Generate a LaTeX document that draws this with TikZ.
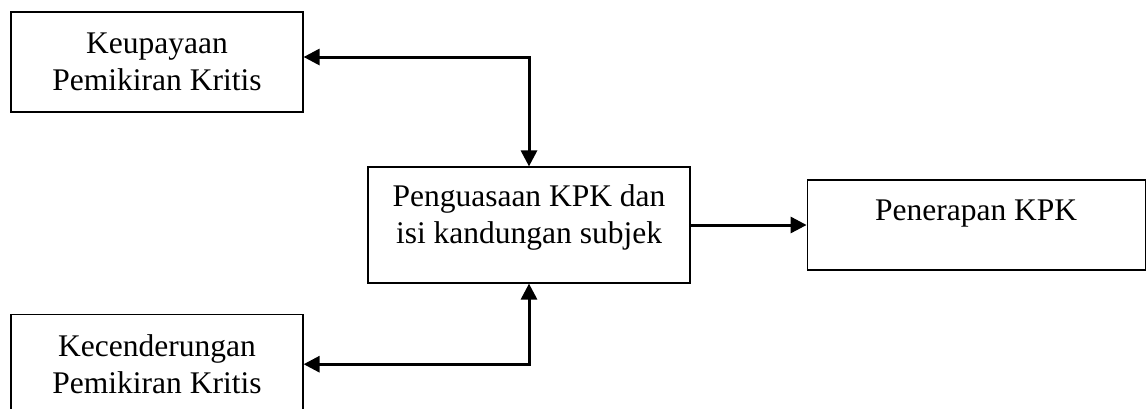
\documentclass[tikz,border=0pt]{standalone}
\usepackage{fontspec}
\setmainfont{Liberation Serif}
\usetikzlibrary{arrows.meta,positioning}

\begin{document}
\begin{tikzpicture}[>={Triangle[length=8pt,width=8pt]}, x=1pt, y=1pt]
			\tikzset{block/.style= {draw, rectangle, align=center, line width=0.6pt, inner sep=0pt, font=\fontsize{15.75}{18.5}\selectfont},
			teks/.style= {align=center, inner sep=0pt, font=\fontsize{15.75}{18.5}\selectfont},
			fleche/.style= {draw, line width=1.5pt}
			}
			\useasboundingbox (0,0) rectangle (573.5,-204);

			\node [block, minimum width=146pt, minimum height=50pt] (keupayaan) at (78.5,-31) {Keupayaan\\Pemikiran Kritis};
			\node [block, minimum width=146pt, minimum height=50pt, below = 100.5pt of keupayaan] (kecenderungan) {Kecenderungan\\Pemikiran Kritis};
			\node [block, minimum width=161pt, minimum height=58pt] (kuasa) at (264.5,-112.5) {};
			\node [block, minimum width=169pt, minimum height=45pt, right = 58pt of kuasa] (terap) {};

			% text sits in the upper part of the two right boxes
			\node [teks, below = 9pt of kuasa.north] (kuasateks) {Penguasaan KPK dan\\isi kandungan subjek};
			\node [teks, below = 10pt of terap.north] (terapteks) {Penerapan KPK};

			\path[fleche, <->]
			(kuasa.north) |- ([yshift=2.5pt]keupayaan.east);
			\path[fleche, <->]
			(kuasa.south) |- (kecenderungan.east);
			\path[fleche, ->]
			(kuasa) -- (terap);
\end{tikzpicture}
\end{document}
